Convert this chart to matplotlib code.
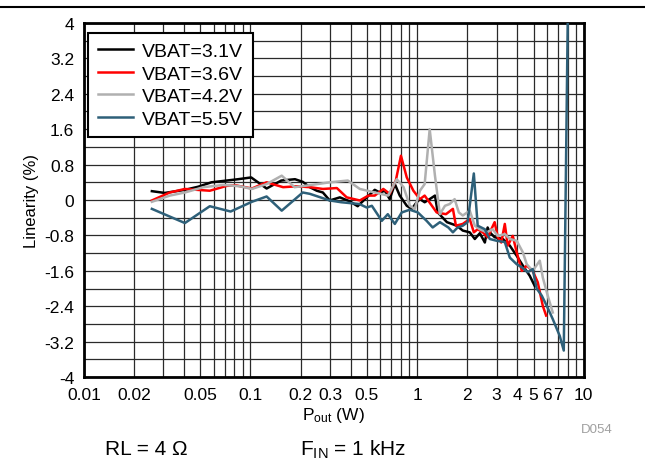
import matplotlib
matplotlib.use('Agg')
import matplotlib.pyplot as plt
from matplotlib.lines import Line2D
from matplotlib.ticker import NullFormatter

plt.rcParams['font.family'] = ['Liberation Sans', 'DejaVu Sans']
plt.rcParams['mathtext.default'] = 'regular'

# VBAT = 3.1 V
x_31 = [0.0256, 0.0306, 0.0404, 0.0485, 0.0583, 0.0721, 0.0843, 0.101, 0.125, 0.153,
        0.185, 0.206, 0.227, 0.250, 0.272, 0.299, 0.344, 0.394, 0.440, 0.499,
        0.557, 0.597, 0.640, 0.685, 0.735, 0.787, 0.867, 0.929, 0.995, 1.04,
        1.11, 1.19, 1.28, 1.33, 1.51, 1.73, 1.88, 2.07, 2.22, 2.38,
        2.55, 2.65, 2.73, 2.92, 3.27, 3.60, 3.96, 4.31, 4.74, 5.08]
y_31 = [0.20, 0.16, 0.23, 0.30, 0.40, 0.44, 0.47, 0.51, 0.26, 0.44,
        0.47, 0.41, 0.29, 0.21, 0.17, -0.01, 0.06, -0.03, -0.14, 0.06,
        0.23, 0.17, 0.21, 0.02, 0.36, 0.10, -0.13, -0.20, -0.05, 0.02,
        -0.05, 0.02, 0.10, -0.28, -0.50, -0.58, -0.69, -0.73, -0.88, -0.75,
        -0.96, -0.62, -0.73, -0.84, -0.88, -1.03, -1.26, -1.48, -1.71, -1.94]

# VBAT = 3.6 V
x_36 = [0.0256, 0.0328, 0.0404, 0.0476, 0.0570, 0.0721, 0.082, 0.102, 0.125, 0.157,
        0.189, 0.227, 0.272, 0.33, 0.378, 0.453, 0.51, 0.557, 0.627, 0.685,
        0.745, 0.800, 0.867, 0.95, 1.04, 1.11, 1.31, 1.49, 1.64, 1.71,
        1.88, 2.07, 2.19, 2.31, 2.48, 2.65, 2.92, 3.05, 3.20, 3.36,
        3.50, 3.75, 3.96, 4.25, 4.55, 4.94, 5.30, 5.68, 5.95]
y_36 = [-0.01, 0.17, 0.25, 0.23, 0.21, 0.32, 0.33, 0.26, 0.40, 0.29,
        0.31, 0.29, 0.25, 0.27, 0.06, -0.01, 0.10, 0.10, 0.25, 0.14,
        0.44, 1.00, 0.51, 0.21, 0.02, 0.10, -0.28, -0.32, -0.20, -0.58,
        -0.54, -0.43, -0.73, -0.66, -0.73, -0.84, -0.50, -0.84, -0.96, -0.54,
        -1.03, -0.81, -1.18, -1.60, -1.48, -1.60, -1.86, -2.39, -2.61]

# VBAT = 4.2 V
x_42 = [0.0256, 0.0328, 0.0404, 0.0522, 0.0686, 0.0865, 0.102, 0.125, 0.154, 0.184,
        0.232, 0.299, 0.384, 0.453, 0.53, 0.67, 0.755, 0.83, 0.904, 0.968,
        1.04, 1.11, 1.19, 1.28, 1.37, 1.47, 1.57, 1.68, 1.78, 1.88,
        2.07, 2.22, 2.38, 2.62, 2.84, 3.05, 3.36, 3.60, 3.96, 4.31,
        4.55, 4.94, 5.45, 5.68, 6.08, 6.52]
y_42 = [-0.04, 0.10, 0.17, 0.29, 0.34, 0.31, 0.25, 0.36, 0.55, 0.29,
        0.34, 0.40, 0.44, 0.25, 0.19, 0.10, 0.47, 0.29, -0.13, -0.20,
        0.21, 0.36, 1.60, 0.55, -0.32, -0.13, -0.09, 0.02, -0.28, -0.35,
        -0.24, -0.58, -0.66, -0.73, -0.66, -0.81, -0.77, -0.88, -0.92, -1.18,
        -1.45, -1.60, -1.37, -1.75, -2.16, -2.54]

# VBAT = 5.5 V
x_55 = [0.0256, 0.0404, 0.0570, 0.0760, 0.102, 0.125, 0.154, 0.206, 0.227, 0.299,
        0.35, 0.45, 0.499, 0.535, 0.614, 0.667, 0.735, 0.809, 0.904, 1.01,
        1.14, 1.24, 1.37, 1.54, 1.64, 1.75, 1.88, 2.01, 2.19, 2.31,
        2.55, 2.73, 3.00, 3.36, 3.60, 3.96, 4.25, 4.61, 4.94, 5.22,
        5.60, 6.00, 6.52, 7.18, 7.59, 8.05]
y_55 = [-0.20, -0.52, -0.14, -0.26, -0.04, 0.08, -0.24, 0.17, 0.14, -0.01,
        -0.05, -0.09, -0.17, -0.13, -0.47, -0.32, -0.54, -0.28, -0.22, -0.28,
        -0.47, -0.62, -0.50, -0.62, -0.73, -0.62, -0.58, -0.50, 0.60, -0.58,
        -0.66, -0.88, -0.92, -0.95, -1.30, -1.45, -1.52, -1.63, -1.56, -2.00,
        -2.16, -2.39, -2.69, -3.07, -3.40, 4.60]

series_labels = ['VBAT=3.1V', 'VBAT=3.6V', 'VBAT=4.2V', 'VBAT=5.5V']
series_colors = ['#000000', '#ff0000', '#b0b0b0', '#2e6079']

xtick_vals = [0.01, 0.02, 0.05, 0.1, 0.2, 0.3, 0.5, 1, 2, 3, 4, 5, 6, 7, 10]
xtick_labels = ['0.01', '0.02', '0.05', '0.1', '0.2', '0.3', '0.5',
                '1', '2', '3', '4', '5', '6', '7', '10']
xgrid_vals = [m * d for d in (0.01, 0.1, 1) for m in range(1, 10)] + [10]

ytick_vals = [-4, -3.2, -2.4, -1.6, -0.8, 0, 0.8, 1.6, 2.4, 3.2, 4]
ytick_labels = ['-4', '-3.2', '-2.4', '-1.6', '-0.8', '0', '0.8', '1.6', '2.4', '3.2', '4']
ygrid_vals = [v / 10 for v in range(-40, 41, 4)]


fig = plt.figure(figsize=(6.45, 4.6), dpi=100)
ax = fig.add_axes([0.130, 0.178, 0.775, 0.770])

xs = [x_31, x_36, x_42, x_55]
ys = [y_31, y_36, y_42, y_55]
for x, y, lab, col in zip(xs, ys, series_labels, series_colors):
    ax.plot(x, y, color=col, lw=1.8, label=lab, zorder=3)

ax.set_xscale('log')
ax.set_xlim(0.01, 10)
ax.set_ylim(-4, 4)

ax.set_xticks(xtick_vals, labels=xtick_labels)
ax.set_xticks(xgrid_vals, minor=True)
ax.xaxis.set_minor_formatter(NullFormatter())
ax.set_yticks(ytick_vals, labels=ytick_labels)
ax.set_yticks(ygrid_vals, minor=True)

ax.tick_params(which='both', length=0, labelsize=12.5, pad=7)
ax.grid(which='both', color='#2a2a2a', lw=0.9)
ax.set_axisbelow(True)
for sp in ax.spines.values():
    sp.set_linewidth(2)

ax.set_xlabel('P$_{out}$ (W)', fontsize=12.5, labelpad=2)
ax.set_ylabel('Linearity (%)', fontsize=12, labelpad=4)

leg = ax.legend(loc='upper left', bbox_to_anchor=(0.008, 0.972), borderaxespad=0,
                fontsize=14, frameon=True, fancybox=False, framealpha=1,
                edgecolor='black', handlelength=1.8, handletextpad=0.5,
                labelspacing=0.25, borderpad=0.5)
leg.get_frame().set_linewidth(1.5)

# header rule at top of the page
fig.add_artist(Line2D([0, 1], [0.983, 0.983], transform=fig.transFigure,
                      color='black', lw=1.5))

fig.text(0.925, 0.066, 'D054', fontsize=9.5, color='#a0a0a0', ha='center', va='center')
fig.text(0.163, 0.022, 'RL = 4 \u03a9', fontsize=15, ha='left', va='center')
fig.text(0.465, 0.022, 'F$_{IN}$ = 1 kHz', fontsize=15, ha='left', va='center')

fig.savefig('out.png', dpi=100)
